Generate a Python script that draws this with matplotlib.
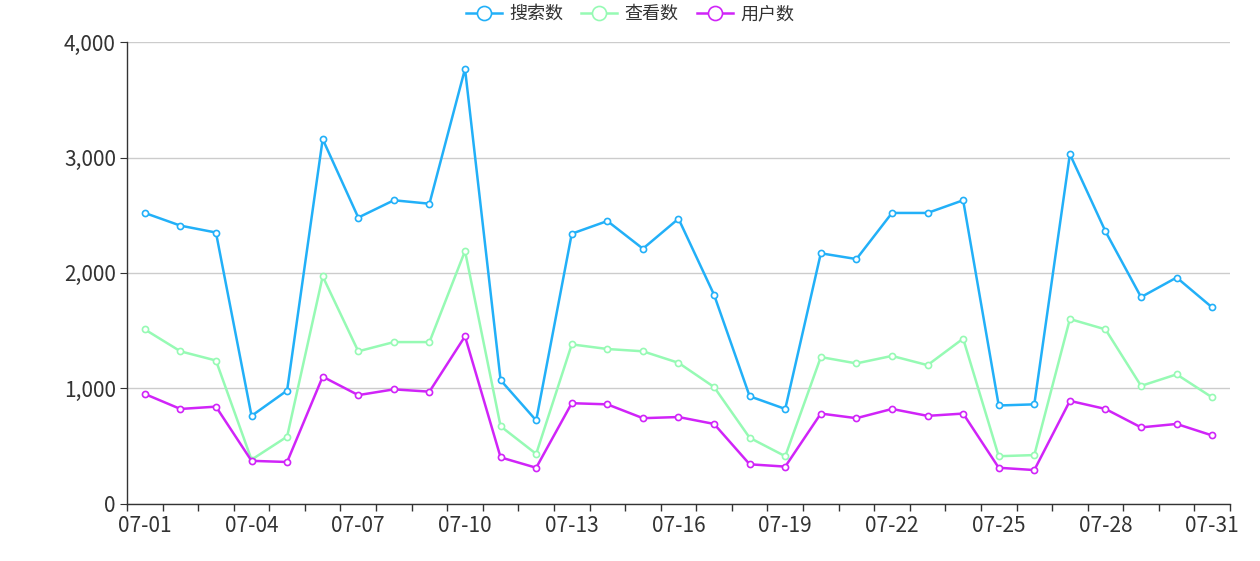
import numpy as np
import matplotlib
matplotlib.use("Agg")
import matplotlib.pyplot as plt
from matplotlib.ticker import FuncFormatter, FixedLocator

plt.rcParams['font.family'] = ['Noto Sans CJK SC', 'DejaVu Sans']

# data
dates = ['07-%02d' % d for d in range(1, 32)]
search = [2520, 2410, 2350, 760, 980, 3160, 2480, 2630, 2600, 3770,
          1070, 720, 2340, 2450, 2210, 2470, 1810, 930, 820, 2170,
          2120, 2520, 2520, 2630, 850, 860, 3030, 2360, 1790, 1960, 1700]
views = [1510, 1320, 1240, 380, 580, 1970, 1320, 1400, 1400, 2190,
         670, 430, 1380, 1340, 1320, 1220, 1010, 570, 410, 1270,
         1215, 1280, 1200, 1430, 410, 420, 1600, 1510, 1020, 1120, 920]
users = [950, 820, 840, 370, 360, 1100, 940, 990, 970, 1450,
         400, 310, 870, 860, 740, 750, 690, 340, 320, 780,
         740, 820, 760, 780, 310, 290, 890, 820, 660, 690, 590]

series = [('搜索数', search, '#22b0f8'),
          ('查看数', views, '#96fab4'),
          ('用户数', users, '#d024f8')]

fig = plt.figure(figsize=(12.6, 5.61), dpi=100)
ax = fig.add_axes([127/1260, 1 - 503.5/561, (1230 - 127)/1260, (503.5 - 42.3)/561])

x = np.arange(len(dates))
for name, vals, c in series:
    ax.plot(x, vals, color=c, lw=1.8, marker='o', ms=4.4, mfc='white',
            mec=c, mew=1.2, label=name, zorder=3)

ax.set_xlim(-0.5, len(dates) - 0.5)
ax.set_ylim(0, 4000)
ax.set_yticks([0, 1000, 2000, 3000, 4000])
ax.yaxis.set_major_formatter(FuncFormatter(lambda v, p: f'{int(v):,}'))
ax.grid(axis='y', color='#cccccc', lw=1)
ax.set_axisbelow(True)

# category axis: ticks on band edges, labels every 3rd day
ax.xaxis.set_major_locator(FixedLocator(x[::3]))
ax.set_xticklabels(dates[::3])
ax.xaxis.set_minor_locator(FixedLocator(np.arange(-0.5, len(dates), 1)))
ax.tick_params(axis='x', which='major', length=0, pad=8, labelsize=15, labelcolor='#333333')
ax.tick_params(axis='x', which='minor', length=5, color='#333333', width=1)
ax.tick_params(axis='y', length=5, color='#333333', pad=3, labelsize=15, labelcolor='#333333')

for s in ['top', 'right']:
    ax.spines[s].set_visible(False)
for s in ['left', 'bottom']:
    ax.spines[s].set_color('#333333')
    ax.spines[s].set_linewidth(1)

leg = fig.legend(loc='upper center', bbox_to_anchor=(0.5, 1.02), ncol=3, frameon=False,
                 fontsize=13, markerscale=2.3, handlelength=2.0, columnspacing=1.0,
                 handletextpad=0.4)
for t in leg.get_texts():
    t.set_color('#333333')

fig.savefig('out.png', dpi=100)
